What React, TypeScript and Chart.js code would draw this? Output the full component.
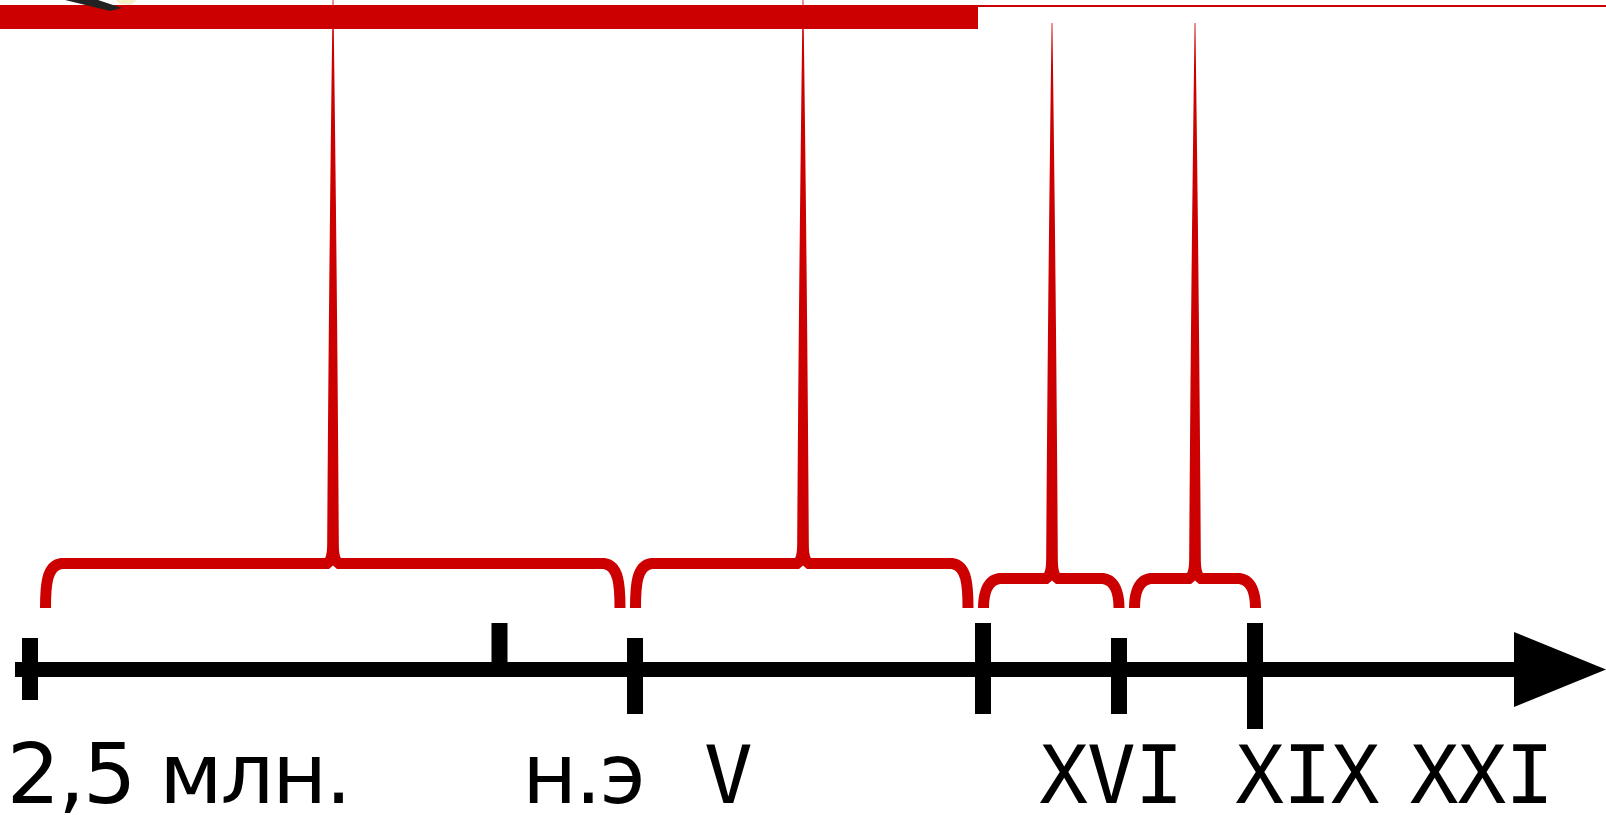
import React, { useEffect, useRef } from "react";
import { Chart, registerables } from "chart.js";

Chart.register(...registerables);

// ---- Drawing space of the timeline (horizontal units, vertical units top-down) ----
const spanX = [0, 1606];
const spanY = [0, 815];

// ---- Timeline axis ----
const axisFrom = 15;
const axisTo = 1514;
const axisLevel = 669.5;
const arrowTipX = 1606;
const arrowHalf = 37.5;

// ---- Tick marks on the timeline ----
const tickAt = [30, 499.5, 635, 983, 1119, 1255];
const tickTop = [638, 623, 638, 623, 638, 623];
const tickBottom = [700, 669.5, 714, 714, 714, 729];

// ---- Period braces ----
const braceFrom = [45.5, 635.5, 983.5, 1134.5];
const braceTo = [620, 968, 1119, 1255.5];
const bracePeak = [333, 803, 1052, 1195];
const braceLevel = [563.5, 563.5, 578.5, 578.5];
const braceSpikeTop = [0, 0, 23, 23];
const braceFoot = 608;

// ---- Top band ----
const bandEnd = 978;
const bandLevel = 17;
const lineLevel = 6;

// ---- Labels ----
const labelText = ["2,5 млн.", "н.э", "V", "XVI", "XIX", "XXI"];
const labelCenter = [178, 585, 728.5, 1107.5, 1307.5, 1478];
const labelMono = [false, false, true, true, true, true];
const labelBaseline = 802.5;

const RED = "#cc0000";

const overlayPlugin = {
  id: "timelineOverlay",
  afterDatasetsDraw(chart: any) {
    const ctx = chart.ctx as CanvasRenderingContext2D;
    const xs = chart.scales.x;
    const ys = chart.scales.y;
    const px = (v: number) => xs.getPixelForValue(v);
    const py = (v: number) => ys.getPixelForValue(v);

    ctx.save();
    // small cropped picture fragment at the top-left
    ctx.fillStyle = "#222";
    ctx.beginPath();
    ctx.moveTo(px(65), py(0));
    ctx.lineTo(px(98), py(0));
    ctx.lineTo(px(122), py(8));
    ctx.lineTo(px(110), py(11));
    ctx.closePath();
    ctx.fill();
    ctx.fillStyle = "#f3f0c8";
    ctx.beginPath();
    ctx.moveTo(px(116), py(0));
    ctx.lineTo(px(137), py(0));
    ctx.lineTo(px(131), py(5));
    ctx.lineTo(px(120), py(4));
    ctx.closePath();
    ctx.fill();

    // braces
    for (let i = 0; i < braceFrom.length; i++) {
      const L = braceFrom[i];
      const R = braceTo[i];
      const C = bracePeak[i];
      const lv = braceLevel[i];
      const top = braceSpikeTop[i];
      ctx.strokeStyle = RED;
      ctx.lineWidth = 11;
      ctx.lineCap = "butt";
      ctx.lineJoin = "round";
      ctx.beginPath();
      ctx.moveTo(px(L), py(braceFoot));
      ctx.bezierCurveTo(px(L), py(lv + 22), px(L + 1), py(lv + 2), px(L + 16), py(lv));
      ctx.lineTo(px(C), py(lv));
      ctx.lineTo(px(R - 16), py(lv));
      ctx.bezierCurveTo(px(R - 1), py(lv + 2), px(R), py(lv + 22), px(R), py(braceFoot));
      ctx.stroke();

      // spike
      ctx.fillStyle = RED;
      ctx.beginPath();
      ctx.moveTo(px(C - 10.5), py(lv - 2));
      ctx.bezierCurveTo(px(C - 6), py(lv - 6), px(C - 5.8), py(lv - 12), px(C - 5.8), py(lv - 24));
      ctx.quadraticCurveTo(px(C - 4.2), py((lv + top) / 2), px(C - 0.4), py(top));
      ctx.lineTo(px(C + 0.4), py(top));
      ctx.quadraticCurveTo(px(C + 4.2), py((lv + top) / 2), px(C + 5.8), py(lv - 24));
      ctx.bezierCurveTo(px(C + 5.8), py(lv - 12), px(C + 6), py(lv - 6), px(C + 10.5), py(lv - 2));
      ctx.closePath();
      ctx.fill();

      // notch under the peak
      ctx.fillStyle = "#ffffff";
      ctx.beginPath();
      ctx.moveTo(px(C - 4), py(lv + 5.6));
      ctx.lineTo(px(C), py(lv + 2));
      ctx.lineTo(px(C + 4), py(lv + 5.6));
      ctx.closePath();
      ctx.fill();
    }

    // labels
    ctx.fillStyle = "#000";
    ctx.textBaseline = "alphabetic";
    ctx.textAlign = "left";
    for (let i = 0; i < labelText.length; i++) {
      ctx.font = labelMono[i] ? '81px "DejaVu Sans Mono"' : '84px "DejaVu Sans"';
      (ctx as any).letterSpacing = labelMono[i] ? "-1px" : "-2px";
      const m = ctx.measureText(labelText[i]);
      const inkW = m.actualBoundingBoxRight + m.actualBoundingBoxLeft;
      const x = px(labelCenter[i]) - inkW / 2 + m.actualBoundingBoxLeft;
      ctx.fillText(labelText[i], x, py(labelBaseline));
    }
    (ctx as any).letterSpacing = "0px";
    ctx.restore();
  },
};

export default function App() {
  const ref = useRef<HTMLCanvasElement | null>(null);

  useEffect(() => {
    if (!ref.current) return;
    const line = (pts: { x: number; y: number }[], color: string, width: number, extra: any = {}) => ({
      data: pts,
      borderColor: color,
      backgroundColor: color,
      borderWidth: width,
      pointRadius: 0,
      borderCapStyle: "butt",
      fill: false,
      ...extra,
    });

    const datasets: any[] = [
      line([{ x: spanX[0], y: lineLevel }, { x: spanX[1], y: lineLevel }], RED, 2),
      line([{ x: spanX[0], y: bandLevel }, { x: bandEnd, y: bandLevel }], RED, 24),
      line([{ x: axisFrom, y: axisLevel }, { x: axisTo, y: axisLevel }], "#000", 15),
      ...tickAt.map((t, i) =>
        line([{ x: t, y: tickTop[i] }, { x: t, y: tickBottom[i] }], "#000", 16)
      ),
      line(
        [
          { x: axisTo, y: axisLevel - arrowHalf },
          { x: arrowTipX, y: axisLevel },
          { x: axisTo, y: axisLevel + arrowHalf },
          { x: axisTo, y: axisLevel - arrowHalf },
        ],
        "#000",
        0,
        { fill: "shape" }
      ),
    ];

    const chart = new Chart(ref.current, {
      type: "line",
      data: { datasets },
      options: {
        animation: false,
        responsive: true,
        maintainAspectRatio: false,
        events: [],
        layout: { padding: 0 },
        plugins: { legend: { display: false }, tooltip: { enabled: false } },
        elements: { line: { tension: 0 }, point: { radius: 0 } },
        scales: {
          x: { type: "linear", min: spanX[0], max: spanX[1], display: false },
          y: { type: "linear", min: spanY[0], max: spanY[1], reverse: true, display: false },
        },
      },
      plugins: [overlayPlugin],
    } as any);
    return () => chart.destroy();
  }, []);

  return (
    <div style={{ position: "fixed", left: 0, top: 0, width: 1606, height: 815, background: "#fff" }}>
      <canvas ref={ref} />
    </div>
  );
}
